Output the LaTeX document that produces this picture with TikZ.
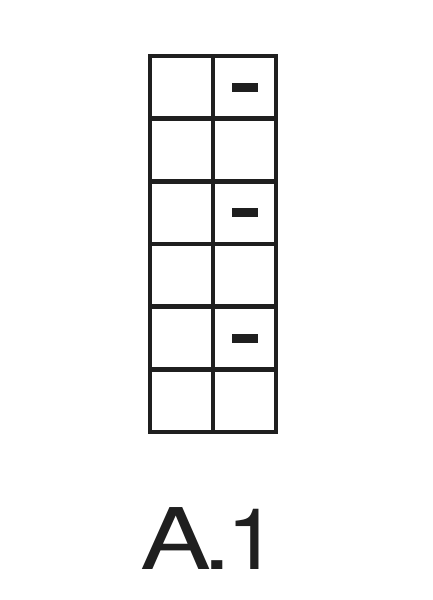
\documentclass[tikz,border=0pt]{standalone}
\usepackage{fontspec}
\setmainfont{TeX Gyre Heros}
\newfontfamily\widefont[FakeStretch=1.25]{TeX Gyre Heros}
\newfontfamily\midfont[FakeStretch=1.1]{TeX Gyre Heros}
\begin{document}
\begin{tikzpicture}[x=1pt,y=-1pt,
  gridline/.style={line width=4.5pt,draw=black!88},
  dashmark/.style={fill=black!88,draw=none},
  label/.style={inner sep=0pt,anchor=base west,text=black!88,font=\fontsize{85}{85}\selectfont}]
\useasboundingbox (0,0) rectangle (433,600);
\draw[gridline] (150,56) rectangle (276,432);
\draw[gridline] (213,56) -- (213,432);
\foreach \y in {118.7,181.3,244,306.7,369.3} \draw[gridline] (150,\y) -- (276,\y);
\foreach \y in {87.5,212.7,338} \fill[dashmark] (232,\y-4.5) rectangle (258,\y+4.5);
\node[label] (t) at (140.5,569) {{\widefont A\kern-9pt.}\kern-5.5pt{\midfont 1}};
\end{tikzpicture}
\end{document}
